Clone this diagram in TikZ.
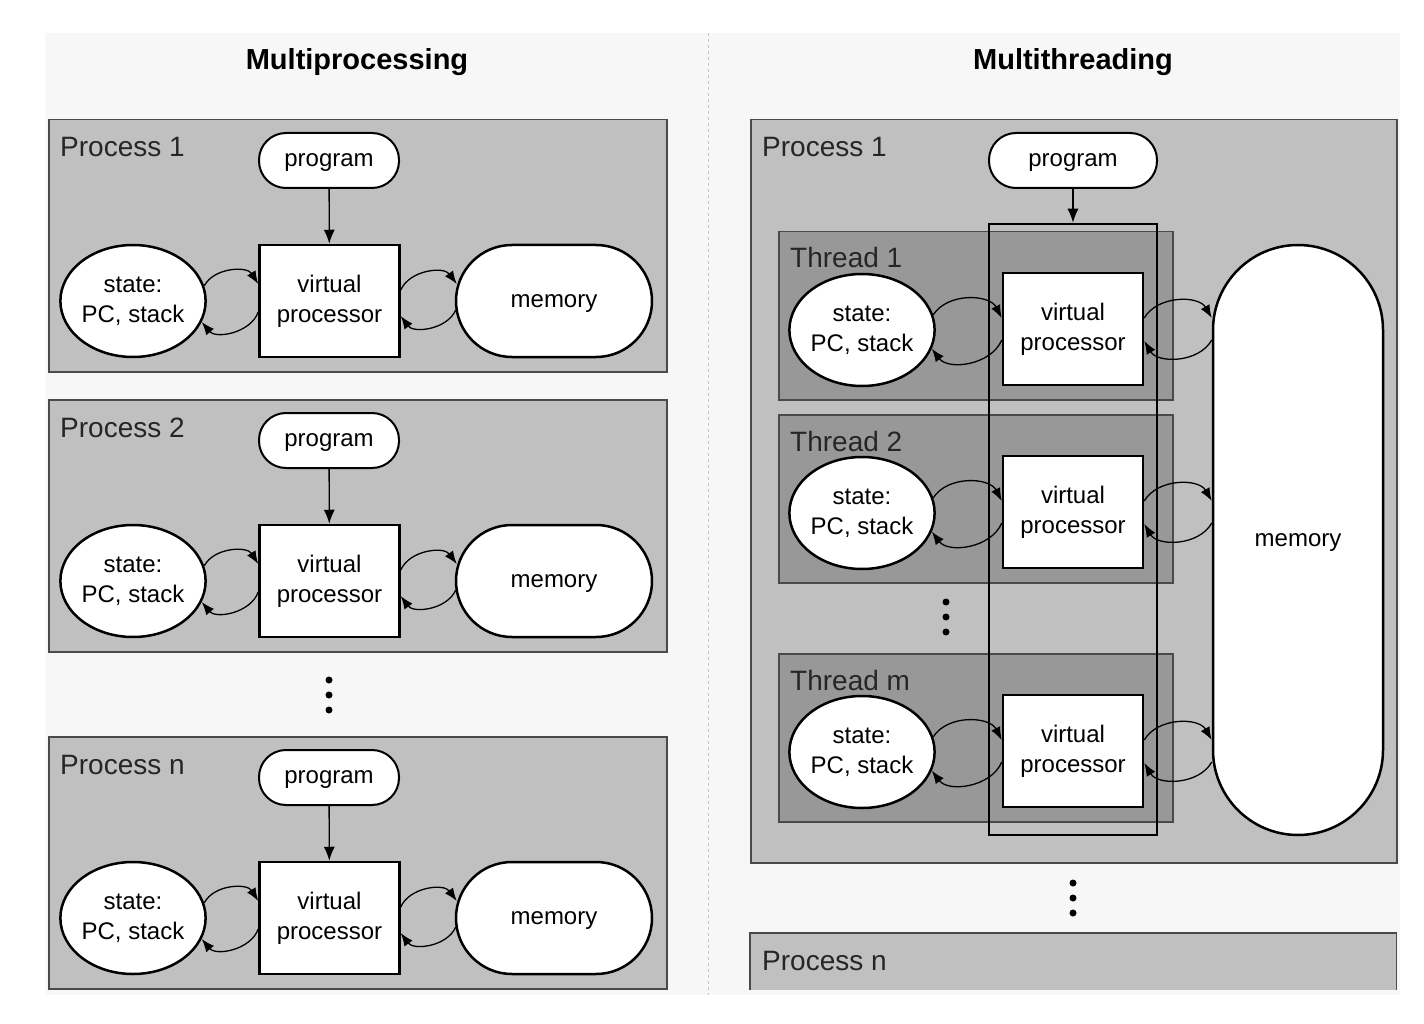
\documentclass[tikz,border=0pt]{standalone}
\usepackage{fontspec}
\setmainfont{Liberation Sans}
\usetikzlibrary{arrows.meta,calc,shapes.geometric}
\definecolor{bgpanel}{HTML}{F6F7F6}
\definecolor{procgray}{HTML}{BFC0BF}
\definecolor{threadgray}{HTML}{979897}
\definecolor{edgegray}{HTML}{4A4A4A}
\begin{document}
\begin{tikzpicture}[x=1pt,y=-1pt,
 nodefont/.style={font=\fontsize{24}{30}\selectfont},
 procbox/.style={draw=edgegray,line width=1.5pt,fill=procgray,inner sep=0pt},
 threadbox/.style={draw=edgegray,line width=1.5pt,fill=threadgray,inner sep=0pt},
 boxlabel/.style={anchor=base west,inner sep=0pt,font=\fontsize{28}{34}\selectfont,text=black!85},
 titlelabel/.style={inner sep=0pt,font=\bfseries\fontsize{29}{34}\selectfont},
 prog/.style={draw,line width=2pt,fill=white,rounded corners=27pt,minimum width=140pt,minimum height=55pt,inner sep=0pt,text depth=0pt,nodefont},
 vproc/.style={draw,line width=2.5pt,fill=white,minimum width=140pt,minimum height=112pt,inner sep=0pt,align=center,nodefont},
 stateell/.style={draw,line width=2.5pt,fill=white,ellipse,minimum width=140pt,minimum height=112pt,inner sep=0pt,align=center,nodefont},
 mem/.style={draw,line width=2.5pt,fill=white,rounded corners=56pt,minimum width=196pt,minimum height=112pt,inner sep=0pt,text depth=0pt,nodefont},
 flow/.style={-{Latex[length=14pt,width=11pt]},line width=1.3pt},
 cyc/.style={-{Latex[length=13pt,width=10pt]},line width=1.3pt,bend left=60},
 dotmark/.style={circle,fill=black,inner sep=0pt,minimum size=7pt}]
\useasboundingbox (0,0) rectangle (1424,1024);
\fill[bgpanel] (45,33) rectangle (1400,995);
\draw[dashed,gray!45,line width=0.8pt] (708,33) -- (708,995);
\node[titlelabel] (t1) at (357,62) {Multiprocessing};
\node[titlelabel] (t2) at (1073,62) {Multithreading};
% ---------- left column ----------
\foreach \d/\lab/\k in {0/1/a,280/2/b,617/n/c}{
  \node[procbox,anchor=north west,minimum width=618pt,minimum height=252pt] (lp\k) at (48,119+\d) {};
  \node[boxlabel] (lpl\k) at (60,157+\d) {Process \lab};
  \node[prog] (lprog\k) at (329,160.5+\d) {program};
  \node[vproc] (lvp\k) at (329.5,301+\d) {virtual\\processor};
  \node[stateell] (ls\k) at (133,301+\d) {state:\\PC, stack};
  \node[mem] (lm\k) at (554,301+\d) {memory};
  \draw[flow] (lprog\k) -- (lvp\k);
  \draw[cyc] (ls\k.12) to ($(lvp\k.west)+(0,-17)$);
  \draw[cyc] ($(lvp\k.west)+(0,11)$) to (ls\k.-17);
  \draw[cyc] ($(lvp\k.east)+(0,-11)$) to ($(lm\k.west)+(2,-17)$);
  \draw[cyc] ($(lm\k.west)+(1,9)$) to ($(lvp\k.east)+(0,15)$);
}
\node[dotmark] (ld1) at (329,680) {};
\node[dotmark] (ld2) at (329,695) {};
\node[dotmark] (ld3) at (329,710) {};
% ---------- right column ----------
\node[procbox,anchor=north west,minimum width=646pt,minimum height=743pt] (rp1) at (750,119) {};
\node[boxlabel] (rpl1) at (762,157) {Process 1};
\node[prog,minimum width=168pt] (rprog) at (1073,160.5) {program};
\foreach \d/\lab/\k in {0/1/a,183/2/b,422/m/c}{
  \node[threadbox,anchor=north west,minimum width=394pt,minimum height=168pt] (th\k) at (778,231+\d) {};
  \node[boxlabel] (thl\k) at (790,268+\d) {Thread \lab};
}
\node[draw,line width=2.5pt,minimum width=168pt,minimum height=611pt,inner sep=0pt] (tall) at (1073,529.5) {};
\node[mem,minimum width=170pt,minimum height=590pt,rounded corners=85pt] (rmem) at (1298,540) {memory};
\draw[flow] (rprog) -- (tall.north);
\foreach \d/\k in {0/a,183/b,422/c}{
  \node[stateell,minimum width=138pt] (rs\k) at (862,330+\d) {state:\\PC, stack};
  \node[vproc] (rvp\k) at (1073,329+\d) {virtual\\processor};
  \coordinate (mu\k) at ($(rmem.west |- rvp\k.east)+(0,-11)$);
  \coordinate (ml\k) at ($(rmem.west |- rvp\k.east)+(0,11)$);
  \draw[cyc] (rs\k.12) to ($(rvp\k.west)+(0,-11)$);
  \draw[cyc] ($(rvp\k.west)+(0,11)$) to (rs\k.-15);
  \draw[cyc] ($(rvp\k.east)+(0,-11)$) to (mu\k);
  \draw[cyc] (ml\k) to ($(rvp\k.east)+(0,12)$);
}
\node[dotmark] (td1) at (946,602) {};
\node[dotmark] (td2) at (946,617) {};
\node[dotmark] (td3) at (946,632) {};
\node[dotmark] (rd1) at (1073,883) {};
\node[dotmark] (rd2) at (1073,898) {};
\node[dotmark] (rd3) at (1073,913) {};
\node[fill=procgray,anchor=north west,minimum width=646pt,minimum height=57pt,inner sep=0pt] (rpn) at (750,933) {};
\draw[edgegray,line width=1.5pt] (rpn.south west) -- (rpn.north west) -- (rpn.north east) -- (rpn.south east);
\node[boxlabel] (rpln) at (762,970) {Process n};
\end{tikzpicture}
\end{document}
